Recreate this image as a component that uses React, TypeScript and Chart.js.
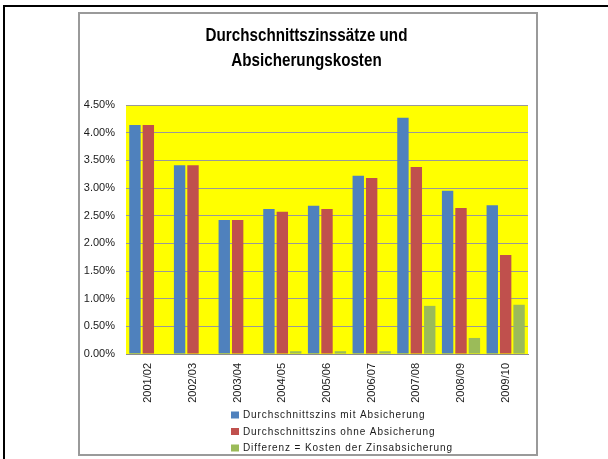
import React, { useEffect, useRef } from "react";
import { Chart, registerables } from "chart.js";

Chart.register(...registerables);

const categories = ["2001/02", "2002/03", "2003/04", "2004/05", "2005/06", "2006/07", "2007/08", "2008/09", "2009/10"];
const mitAbsicherung = [4.14, 3.41, 2.42, 2.62, 2.68, 3.22, 4.27, 2.95, 2.69];
const ohneAbsicherung = [4.14, 3.41, 2.42, 2.57, 2.62, 3.18, 3.38, 2.64, 1.79];
const differenz = [0, 0, 0, 0.05, 0.05, 0.05, 0.87, 0.29, 0.89];
const seriesNames = [
  "Durchschnittszins mit Absicherung",
  "Durchschnittszins ohne Absicherung",
  "Differenz = Kosten der Zinsabsicherung",
];
const titleLines = ["Durchschnittszinssätze und", "Absicherungskosten"];
const yMin = 0;
const yMax = 4.5;
const yStep = 0.5;

const colors = ["#4F81BD", "#C0504D", "#9BBB59"];

const plotBg = {
  id: "plotBg",
  beforeDraw(chart: any) {
    const { ctx, chartArea } = chart;
    ctx.save();
    ctx.fillStyle = "#FFFF00";
    ctx.fillRect(chartArea.left, chartArea.top, chartArea.right - chartArea.left, chartArea.bottom - chartArea.top);
    ctx.restore();
  },
};

// Title drawn in a condensed (narrow) style, like the original Arial Narrow heading
const narrowTitle = {
  id: "narrowTitle",
  afterDraw(chart: any) {
    const { ctx } = chart;
    const cx = 226.5;
    const squeeze = 0.8;
    ctx.save();
    ctx.font = "bold 19px 'Liberation Sans', Arial, sans-serif";
    ctx.fillStyle = "#000";
    ctx.textAlign = "center";
    ctx.textBaseline = "alphabetic";
    ctx.translate(cx, 0);
    ctx.scale(squeeze, 1);
    titleLines.forEach((line, i) => {
      ctx.fillText(line, 0, 26.7 + i * 25);
    });
    ctx.restore();
  },
};

const customLegend = {
  id: "customLegend",
  afterDraw(chart: any) {
    const { ctx, chartArea } = chart;
    const x0 = chartArea.left + 105;
    const y0 = chartArea.bottom + 57.5;
    const rowH = 16.5;
    ctx.save();
    ctx.font = "10px 'Liberation Sans', Arial, sans-serif";
    try {
      (ctx as any).letterSpacing = "0.9px";
    } catch (e) {}
    ctx.textBaseline = "middle";
    ctx.textAlign = "left";
    chart.data.datasets.forEach((ds: any, i: number) => {
      const y = y0 + i * rowH;
      ctx.fillStyle = ds.backgroundColor;
      ctx.fillRect(x0, y, 8, 7);
      ctx.fillStyle = "#1a1a1a";
      ctx.fillText(ds.label, x0 + 12, y + 4);
    });
    ctx.restore();
  },
};

export default function App() {
  const ref = useRef<HTMLCanvasElement | null>(null);

  useEffect(() => {
    if (!ref.current) return;
    const chart = new Chart(ref.current, {
      type: "bar",
      data: {
        labels: categories,
        datasets: [
          { label: seriesNames[0], data: mitAbsicherung, backgroundColor: colors[0] },
          { label: seriesNames[1], data: ohneAbsicherung, backgroundColor: colors[1] },
          { label: seriesNames[2], data: differenz, backgroundColor: colors[2] },
        ],
      },
      options: {
        responsive: false,
        animation: false,
        categoryPercentage: 0.9,
        barPercentage: 0.85,
        layout: { padding: { left: 0, right: 8, top: 91, bottom: 0 } },
        plugins: {
          legend: { display: false },
          tooltip: { enabled: false },
          title: { display: false },
        },
        scales: {
          x: {
            grid: { display: false, drawTicks: false },
            border: { display: true, color: "#8c8c8c", width: 1 },
            ticks: {
              color: "#1a1a1a",
              font: { family: "'Liberation Sans', Arial", size: 11 },
              minRotation: 90,
              maxRotation: 90,
              padding: 9,
              autoSkip: false,
            },
            afterFit(scale: any) {
              scale.height = 100;
            },
          },
          y: {
            min: yMin,
            max: yMax,
            grid: { color: "#999999", lineWidth: 1, drawTicks: false },
            border: { display: false },
            ticks: {
              stepSize: yStep,
              color: "#1a1a1a",
              font: { family: "'Liberation Sans', Arial", size: 11 },
              padding: 11,
              callback: (v: any) => Number(v).toFixed(2) + "%",
            },
            afterFit(scale: any) {
              scale.width = 46;
            },
          },
        },
      },
      plugins: [plotBg, narrowTitle, customLegend],
    });
    return () => chart.destroy();
  }, []);

  return (
    <div style={{ position: "fixed", left: 0, top: 0, width: 608, height: 459, background: "#fff", overflow: "hidden" }}>
      <div
        style={{
          position: "absolute",
          left: 3,
          top: 5,
          width: 800,
          height: 800,
          borderTop: "2px solid #000",
          borderLeft: "2px solid #000",
          boxSizing: "border-box",
        }}
      />
      <div
        style={{
          position: "absolute",
          left: 78,
          top: 12,
          width: 460,
          height: 444,
          border: "2px solid #9a9a9a",
          boxSizing: "border-box",
          background: "#fff",
        }}
      />
      <canvas ref={ref} width={456} height={440} style={{ position: "absolute", left: 80, top: 14, width: 456, height: 440 }} />
    </div>
  );
}
